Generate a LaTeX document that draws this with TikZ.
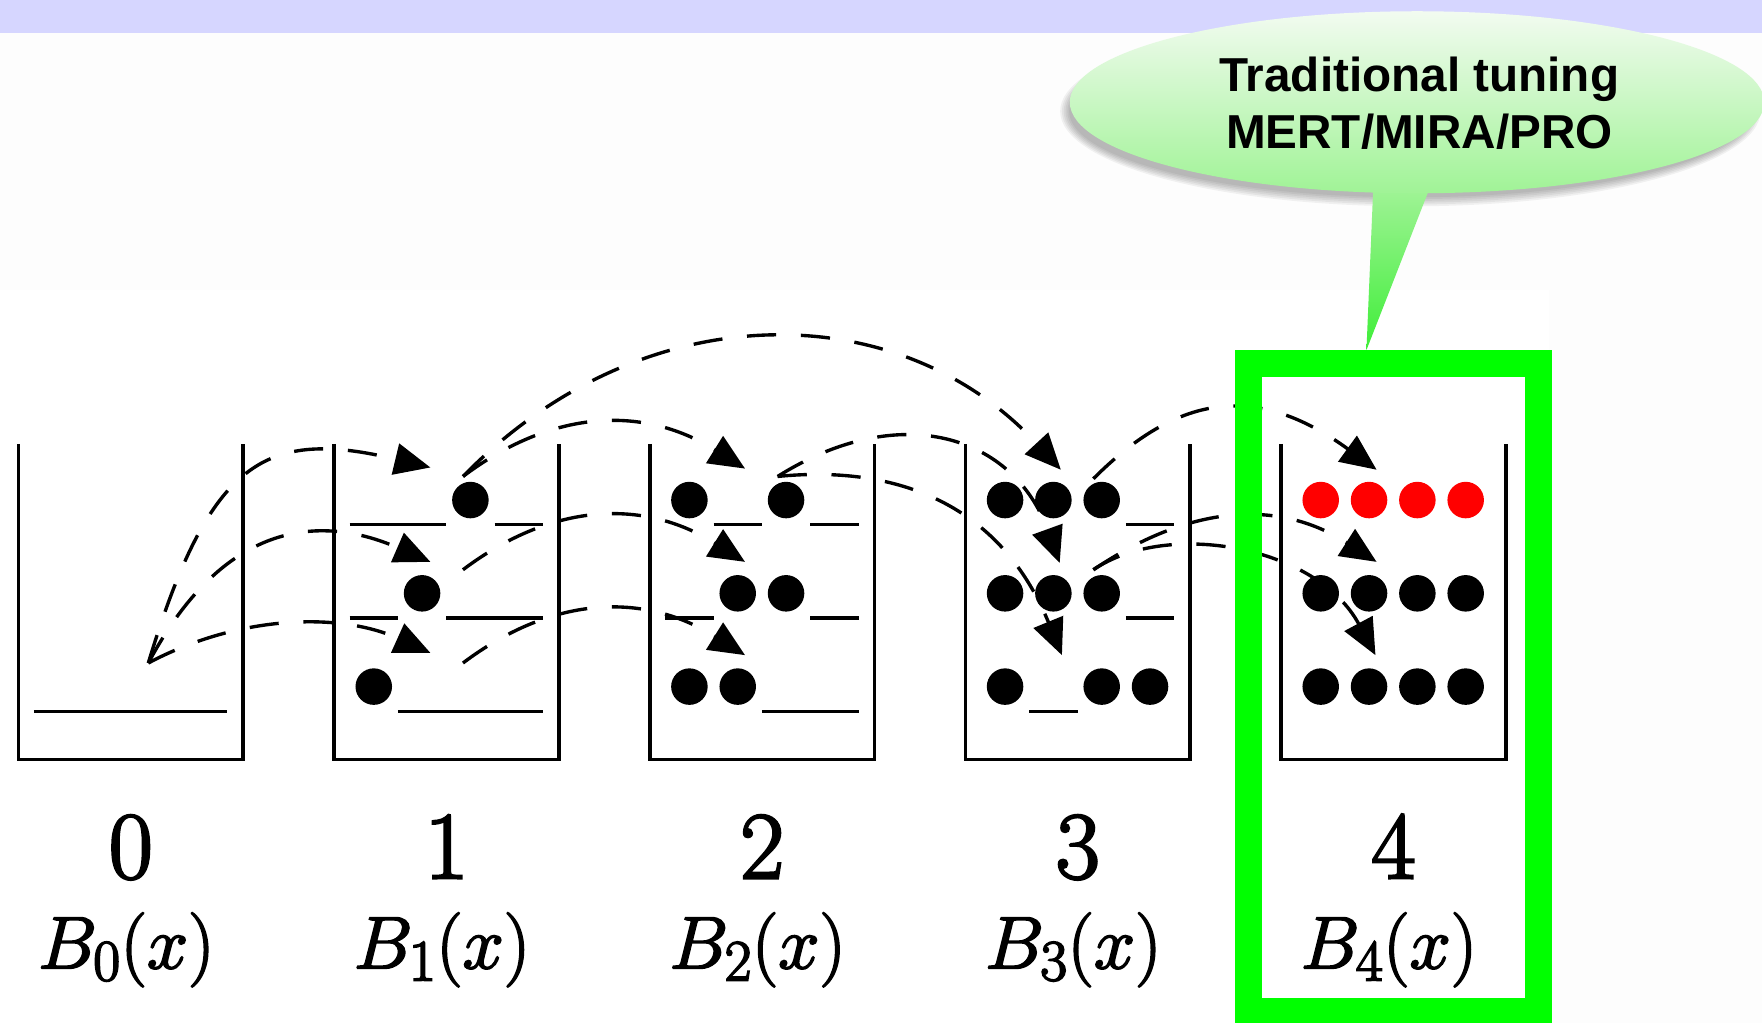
\documentclass[tikz,border=0pt]{standalone}
\usepackage{fix-cm}
\usepackage{fontspec}
\newfontfamily\calloutfont{Liberation Sans}
\usetikzlibrary{arrows.meta}
\DeclareMathSizes{66}{66}{52}{40}
\definecolor{bandcol}{RGB}{214,214,255}
\definecolor{bgcol}{RGB}{253,253,253}
\definecolor{frmgreen}{RGB}{0,255,0}
\definecolor{callTop}{RGB}{242,251,240}
\definecolor{callMid}{RGB}{160,243,150}
\definecolor{callBot}{RGB}{62,238,56}
\newcommand\thickink[1]{\special{pdf:literal direct 2 Tr #1 w}}
\newcommand\thinink{\special{pdf:literal direct 0 Tr}}
\tikzset{
  binwall/.style={line width=3.2pt, line join=miter},
  gapline/.style={line width=3pt},
  hypnode/.style={circle, inner sep=0pt, minimum size=32.5pt},
  conn/.style={line width=3pt, dash pattern=on 26pt off 22pt, -{Triangle[length=32pt,width=28pt]}},
  numlbl/.style={anchor=base, inner sep=0pt, font=\fontsize{85.3}{90}\selectfont},
  eqlbl/.style={anchor=base, inner sep=0pt, font=\fontsize{66}{70}\selectfont},
  calltext/.style={anchor=base, inner sep=0pt, font=\calloutfont\bfseries\fontsize{42.4}{50}\selectfont},
}
\newcommand\HypNode[4]{\node[hypnode, fill=#4] (h#1#2#3) at ({16.4+280.9*#1+35.3+43*#3},{445+83*#2}) {};}
\newcommand\GapLine[3]{\draw[gapline] ({16.4+280.9*#1+13.8+43*#3},{467+83*#2}) -- ++(43,0);}
\newcommand\BinWalls[1]{\draw[binwall] ({16.4+280.9*#1},395) -- ({16.4+280.9*#1},676) -- ({216.4+280.9*#1},676) -- ({216.4+280.9*#1},395);}
\begin{document}
\begin{tikzpicture}[x=1pt,y=-1pt]
\clip (0,0) rectangle (1568,910);
\fill[bgcol] (0,0) rectangle (1568,910);
\fill[white] (0,258) rectangle (1378,910);
\fill[bandcol] (0,0) rectangle (1568,29.4);

% bins
\foreach \b in {0,...,4} {\BinWalls{\b}}
% bin 0
\foreach \s in {0,...,3} {\GapLine{0}{2}{\s}}
% bin 1
\GapLine{1}{0}{0}\GapLine{1}{0}{1}\HypNode{1}{0}{2}{black}\GapLine{1}{0}{3}
\GapLine{1}{1}{0}\HypNode{1}{1}{1}{black}\GapLine{1}{1}{2}\GapLine{1}{1}{3}
\HypNode{1}{2}{0}{black}\GapLine{1}{2}{1}\GapLine{1}{2}{2}\GapLine{1}{2}{3}
% bin 2
\HypNode{2}{0}{0}{black}\GapLine{2}{0}{1}\HypNode{2}{0}{2}{black}\GapLine{2}{0}{3}
\GapLine{2}{1}{0}\HypNode{2}{1}{1}{black}\HypNode{2}{1}{2}{black}\GapLine{2}{1}{3}
\HypNode{2}{2}{0}{black}\HypNode{2}{2}{1}{black}\GapLine{2}{2}{2}\GapLine{2}{2}{3}
% bin 3
\HypNode{3}{0}{0}{black}\HypNode{3}{0}{1}{black}\HypNode{3}{0}{2}{black}\GapLine{3}{0}{3}
\HypNode{3}{1}{0}{black}\HypNode{3}{1}{1}{black}\HypNode{3}{1}{2}{black}\GapLine{3}{1}{3}
\HypNode{3}{2}{0}{black}\GapLine{3}{2}{1}\HypNode{3}{2}{2}{black}\HypNode{3}{2}{3}{black}
% bin 4
\foreach \s in {0,...,3} {\HypNode{4}{0}{\s}{red}\HypNode{4}{1}{\s}{black}\HypNode{4}{2}{\s}{black}}

% connector end points
\coordinate (s0) at (132,590);
\coordinate (s1a) at (412,424);
\coordinate (s1b) at (412,507);
\coordinate (s1c) at (412,590);
\coordinate (s2) at (692,424);
\coordinate (s3a) at (973,426);
\coordinate (s3b) at (973,507);
\coordinate (t1a) at (383,416);
\coordinate (t1b) at (383,500);
\coordinate (t1c) at (383,581);
\coordinate (t2a) at (663,417);
\coordinate (t2b) at (663,500);
\coordinate (t2c) at (663,583);
\coordinate (t3a) at (944,418);
\coordinate (t3b) at (943,501);
\coordinate (t3c) at (945,583);
\coordinate (t4a) at (1225,418);
\coordinate (t4b) at (1225,500);
\coordinate (t4c) at (1224,583);

% connectors
\draw[conn] (s0) .. controls (187,408) and (237,381) .. (t1a);
\draw[conn] (s0) .. controls (198,466) and (282,456) .. (t1b);
\draw[conn] (s0) .. controls (211,548) and (301,544) .. (t1c);
\draw[conn] (s1a) .. controls (489,366) and (570,359) .. (t2a);
\draw[conn] (s1b) .. controls (489,449) and (570,442) .. (t2b);
\draw[conn] (s1c) .. controls (489,532) and (570,525) .. (t2c);
\draw[conn] (s1a) .. controls (572,260) and (800,262) .. (t3a);
\draw[conn] (s2) .. controls (802,355) and (902,388) .. (t3b);
\draw[conn] (s2) .. controls (792,414) and (888,444) .. (t3c);
\draw[conn] (s3a) .. controls (1051,348) and (1120,342) .. (t4a);
\draw[conn] (s3b) .. controls (1064,446) and (1141,446) .. (t4b);
\draw[conn] (s3b) .. controls (1039,462) and (1172,486) .. (t4c);

% labels
\foreach \b/\x in {0/116.4,1/397.3,2/678.2,3/959.1,4/1240} {
  \node[numlbl] (n\b) at (\x,781.6) {\thickink{2.2}\b\thinink};
  \node[eqlbl] (B\b) at (\x-4,861.7) {\thickink{1.6}$B_{\b}(x)$\thinink};
}

% green frame
\draw[frmgreen, line width=23.6pt] (1111,323.3) rectangle (1369.3,900.2);

% callout shadow
\foreach \k in {1,...,6} {
  \fill[black, opacity=0.05] (1255,99) ellipse [x radius={302+1.6*\k}, y radius={75+1.6*\k}];
}
% callout
\shade[top color=callMid, bottom color=callBot] (1222,168) -- (1216,311.5) -- (1272,168) -- cycle;
\shade[top color=callTop, bottom color=callMid] (1261,91) ellipse [x radius=309, y radius=81];
\node[calltext] (c1) at (1263,81.6) {Traditional tuning};
\node[calltext] (c2) at (1263,132) {MERT/MIRA/PRO};
\end{tikzpicture}
\end{document}
